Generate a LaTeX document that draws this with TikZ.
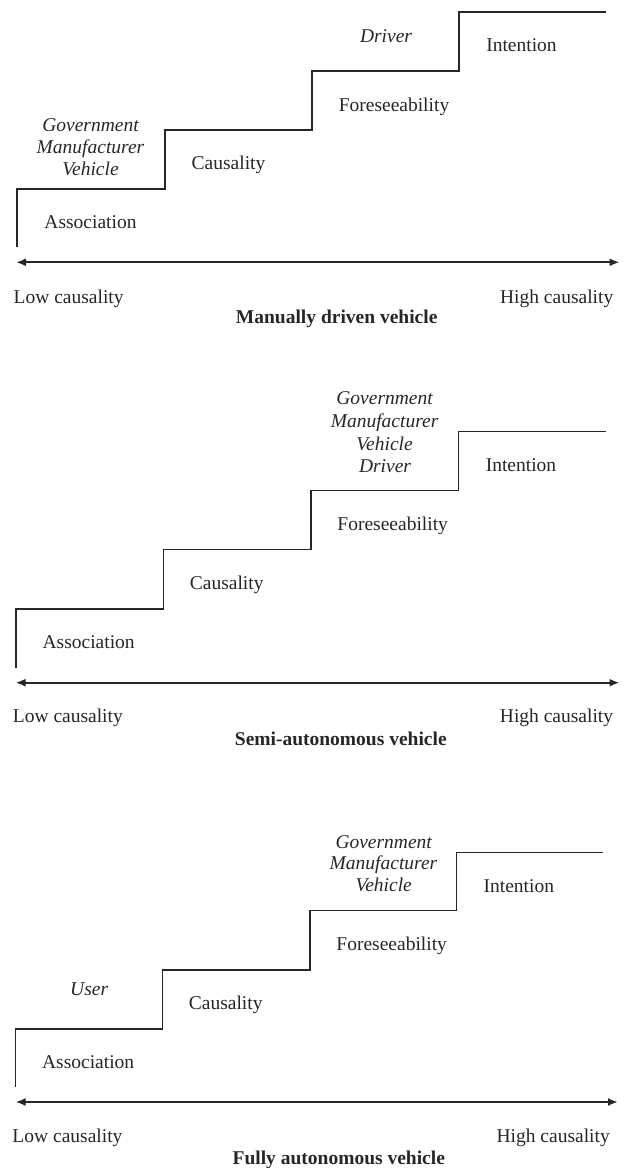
\documentclass[tikz,border=0pt]{standalone}
\usepackage{fontspec}
\setmainfont{Liberation Serif}
\usetikzlibrary{arrows.meta}
\tikzset{
  stair/.style={draw=black!85, line width=1.4pt, line join=miter},
  axis/.style={draw=black!85, line width=2pt, {Latex[length=10pt,width=8pt]}-{Latex[length=10pt,width=8pt]}},
  lbl/.style={inner sep=0pt, anchor=base, text=black!85, font=\fontsize{19.5}{22}\selectfont},
  actor/.style={lbl, font=\fontsize{19.5}{22}\selectfont\itshape},
  lowlbl/.style={lbl, anchor=base west},
  highlbl/.style={lbl, anchor=base east},
  title/.style={lbl, font=\fontsize{19.5}{22}\selectfont\bfseries}
}
\begin{document}
\begin{tikzpicture}[x=1pt,y=-1pt]
\useasboundingbox (0,0) rectangle (625,1168);

% ---------- Panel 1: Manually driven vehicle ----------
\draw[stair] (17,247) -- (17,189) -- (165,189) -- (165,130) -- (312,130) -- (312,71) -- (459,71) -- (459,12) -- (606,12);
\coordinate (a1l) at (16,262.3);
\coordinate (a1r) at (619.5,262.3);
\draw[axis] (a1l) -- (a1r);
\node[lbl] (p1assoc) at (90.5,228.5) {Association};
\node[lbl] (p1caus) at (228.5,169.5) {Causality};
\node[lbl] (p1fore) at (394,111.5) {Foreseeability};
\node[lbl] (p1int) at (521.5,51.5) {Intention};
\node[actor] (p1gov) at (90.5,131.5) {Government};
\node[actor] (p1man) at (90.5,153.5) {Manufacturer};
\node[actor] (p1veh) at (90.5,175.5) {Vehicle};
\node[actor] (p1drv) at (386,42.5) {Driver};
\node[lowlbl] (p1low) at (13.5,303.5) {Low causality};
\node[highlbl] (p1high) at (613.5,303.5) {High causality};
\node[title] (p1title) at (336.7,323.5) {Manually driven vehicle};

% ---------- Panel 2: Semi-autonomous vehicle ----------
\draw[stair] (16,668) -- (16,609) -- (163.5,609) -- (163.5,549.3) -- (311,549.3) -- (311,490.7) -- (458.3,490.7) -- (458.3,431.7) -- (606,431.7);
\coordinate (a2l) at (15.5,682.7);
\coordinate (a2r) at (619.5,682.7);
\draw[axis] (a2l) -- (a2r);
\node[lbl] (p2assoc) at (88.7,648.2) {Association};
\node[lbl] (p2caus) at (226.7,589.8) {Causality};
\node[lbl] (p2fore) at (392.7,530.5) {Foreseeability};
\node[lbl] (p2int) at (521,471.5) {Intention};
\node[actor] (p2gov) at (384.6,404.8) {Government};
\node[actor] (p2man) at (384.6,427.5) {Manufacturer};
\node[actor] (p2veh) at (384.6,450.2) {Vehicle};
\node[actor] (p2drv) at (385,472.5) {Driver};
\node[lowlbl] (p2low) at (12.7,722.5) {Low causality};
\node[highlbl] (p2high) at (613.3,722.5) {High causality};
\node[title] (p2title) at (340.8,745.8) {Semi-autonomous vehicle};

% ---------- Panel 3: Fully autonomous vehicle ----------
\draw[stair] (15.7,1086.7) -- (15.7,1029) -- (162.7,1029) -- (162.7,970) -- (310,970) -- (310,910.7) -- (456.7,910.7) -- (456.7,852.7) -- (602.7,852.7);
\coordinate (a3l) at (15.5,1102);
\coordinate (a3r) at (618,1102);
\draw[axis] (a3l) -- (a3r);
\node[lbl] (p3assoc) at (88.2,1068.8) {Association};
\node[lbl] (p3caus) at (225.7,1009.2) {Causality};
\node[lbl] (p3fore) at (391.7,950.8) {Foreseeability};
\node[lbl] (p3int) at (518.8,892.5) {Intention};
\node[actor] (p3user) at (89.2,995.5) {User};
\node[actor] (p3gov) at (383.7,848.2) {Government};
\node[actor] (p3man) at (383.5,869.8) {Manufacturer};
\node[actor] (p3veh) at (383.7,891.5) {Vehicle};
\node[lowlbl] (p3low) at (12.3,1142.5) {Low causality};
\node[highlbl] (p3high) at (610,1142.5) {High causality};
\node[title] (p3title) at (338.8,1164.3) {Fully autonomous vehicle};
\end{tikzpicture}
\end{document}
